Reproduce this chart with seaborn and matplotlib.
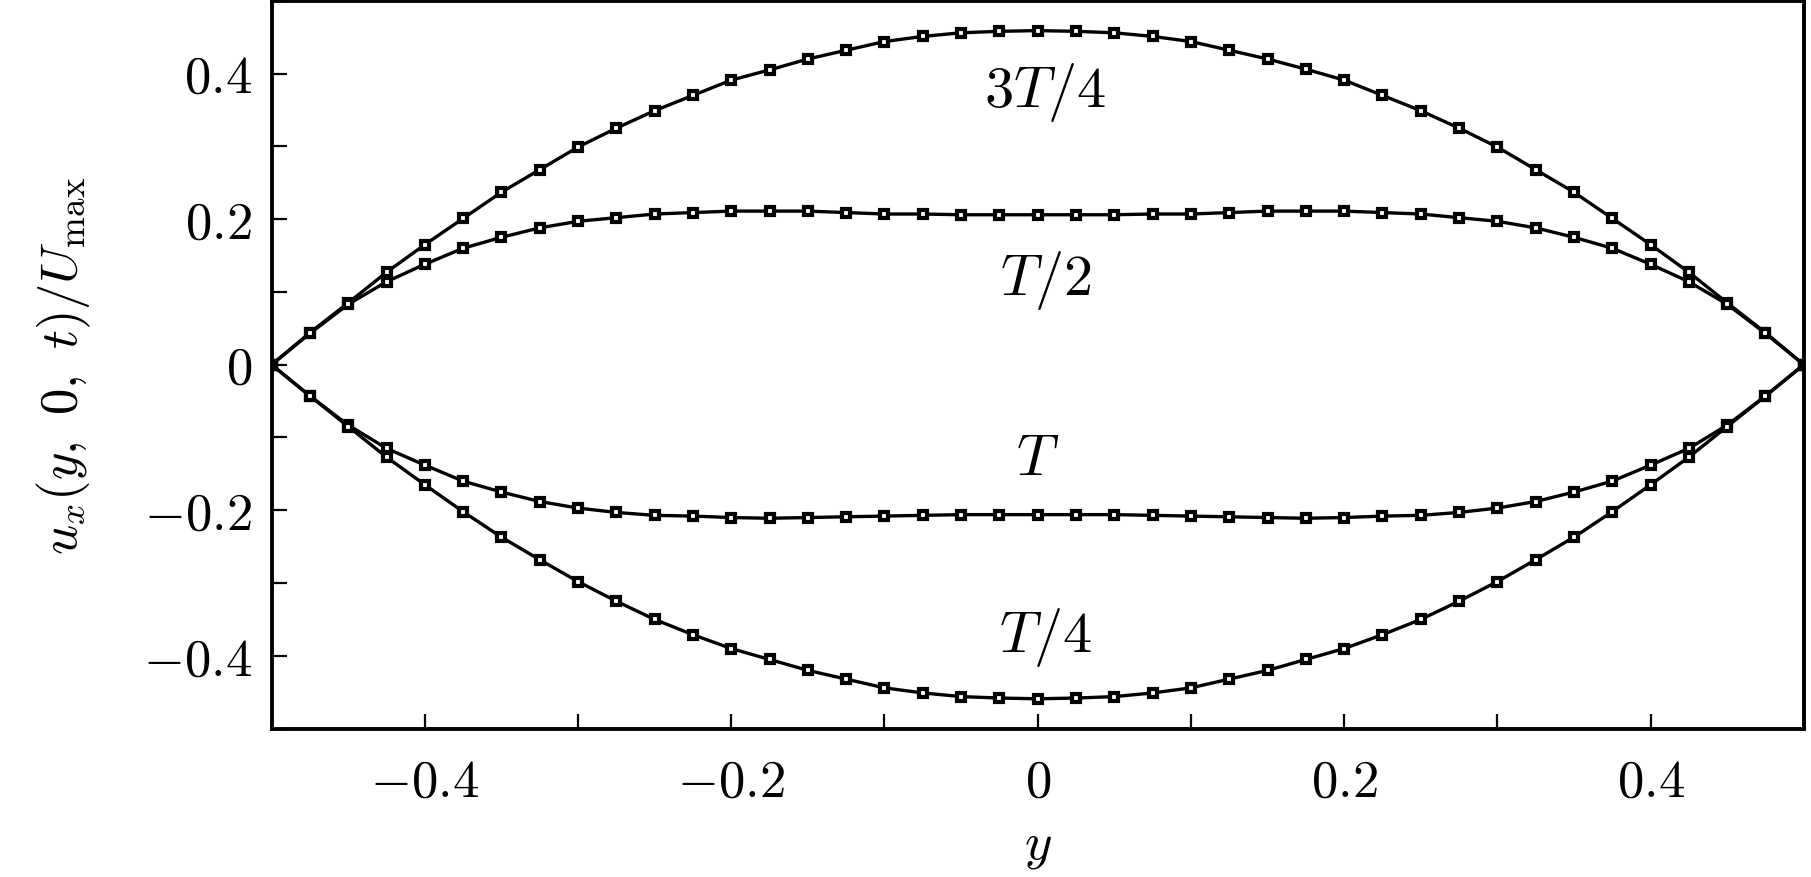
import numpy as np
import pandas as pd
import matplotlib
matplotlib.use("Agg")
import matplotlib.pyplot as plt
import seaborn as sns
from matplotlib.ticker import MultipleLocator, FuncFormatter

# wall-normal positions (41 points across the channel)
y_pos = np.round(np.linspace(-0.5, 0.5, 41), 3)

u_3T4 = [0.000, 0.044, 0.085, 0.127, 0.165, 0.201, 0.237, 0.268, 0.299, 0.325,
         0.349, 0.370, 0.391, 0.405, 0.420, 0.432, 0.444, 0.451, 0.456, 0.458,
         0.459, 0.458, 0.456, 0.451, 0.444, 0.432, 0.420, 0.406, 0.391, 0.370,
         0.349, 0.325, 0.299, 0.268, 0.237, 0.201, 0.165, 0.127, 0.085, 0.044, 0.000]
u_T2 = [0.000, 0.043, 0.083, 0.114, 0.138, 0.160, 0.175, 0.188, 0.197, 0.202,
        0.207, 0.209, 0.211, 0.211, 0.211, 0.209, 0.207, 0.207, 0.206, 0.206,
        0.206, 0.206, 0.206, 0.207, 0.207, 0.209, 0.211, 0.211, 0.211, 0.209,
        0.207, 0.202, 0.197, 0.188, 0.175, 0.160, 0.138, 0.114, 0.083, 0.043, 0.000]
u_T = [0.000, -0.043, -0.083, -0.115, -0.138, -0.160, -0.175, -0.188, -0.197, -0.203,
       -0.207, -0.208, -0.210, -0.211, -0.210, -0.209, -0.208, -0.207, -0.206, -0.206,
       -0.206, -0.206, -0.206, -0.207, -0.208, -0.209, -0.210, -0.211, -0.210, -0.208,
       -0.207, -0.203, -0.197, -0.188, -0.175, -0.160, -0.138, -0.115, -0.083, -0.043, 0.000]
u_T4 = [0.000, -0.043, -0.085, -0.127, -0.165, -0.202, -0.237, -0.268, -0.298, -0.325,
        -0.350, -0.371, -0.390, -0.405, -0.420, -0.432, -0.444, -0.451, -0.456, -0.458,
        -0.459, -0.458, -0.456, -0.451, -0.444, -0.432, -0.420, -0.405, -0.390, -0.371,
        -0.350, -0.325, -0.298, -0.268, -0.237, -0.202, -0.165, -0.127, -0.085, -0.043, 0.000]

labels = ['$3T/4$', '$T/2$', '$T$', '$T/4$']
label_x = [0.005, 0.005, 0.0, 0.005]
label_y = [0.375, 0.117, -0.13, -0.373]

sns.set_style('ticks')
plt.rcParams['font.family'] = ['serif']
plt.rcParams['font.serif'] = ['cmr10', 'DejaVu Serif']
plt.rcParams['mathtext.fontset'] = 'cm'
plt.rcParams['axes.unicode_minus'] = False
plt.rcParams['text.color'] = 'black'
plt.rcParams['axes.labelcolor'] = 'black'
plt.rcParams['xtick.color'] = 'black'
plt.rcParams['ytick.color'] = 'black'
plt.rcParams['axes.edgecolor'] = 'black'

fig = plt.figure(figsize=(1811 / 200, 878 / 200), dpi=200)
ax = fig.add_axes([0.150, 0.169, 0.846, 0.829])

for vals in [u_3T4, u_T2, u_T, u_T4]:
    sns.lineplot(x=y_pos, y=vals, ax=ax, color='black', lw=1.2,
                 marker='s', markersize=3.2, markerfacecolor='white',
                 markeredgecolor='black', markeredgewidth=1.5, legend=False)

for lab, lx, ly in zip(labels, label_x, label_y):
    ax.text(lx, ly, lab, ha='center', va='center', fontsize=21)

ax.set_xlim(-0.5, 0.5)
ax.set_ylim(-0.5, 0.5)


def fmt(v, _):
    if abs(v) < 1e-9:
        return '$0$'
    if abs(round(v / 0.2) * 0.2 - v) < 1e-6:
        return '$%.1f$' % v
    return ''


for axis in [ax.xaxis, ax.yaxis]:
    axis.set_major_locator(MultipleLocator(0.1))
    axis.set_major_formatter(FuncFormatter(fmt))

ax.tick_params(direction='in', length=5.4, width=0.8, labelsize=19,
               top=False, right=False)
ax.tick_params(axis='x', pad=11)
ax.tick_params(axis='y', pad=7)
for s in ax.spines.values():
    s.set_linewidth(1.4)
    s.set_visible(True)

ax.set_xlabel('$y$', fontsize=19, labelpad=6)
ax.set_ylabel(r'$u_x(y,\ 0,\ t)/U_\mathrm{max}$', fontsize=19, labelpad=18)

fig.savefig('out.png', dpi=200)
